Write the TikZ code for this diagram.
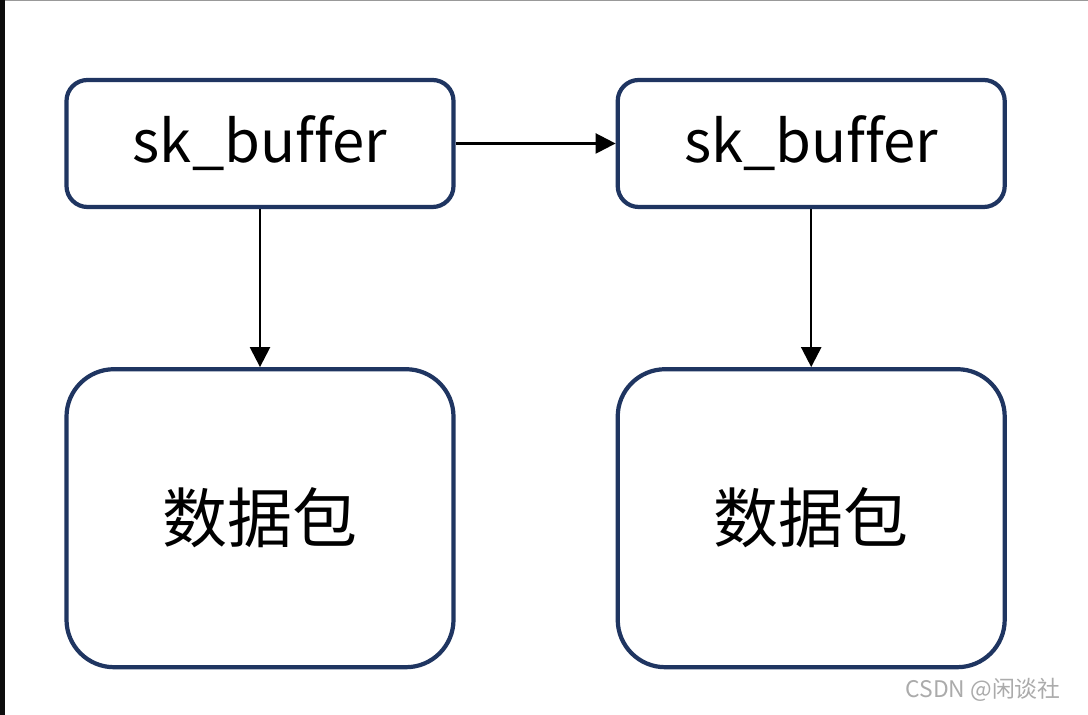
\documentclass[tikz,border=0pt]{standalone}
\usepackage{fontspec}
\setmainfont[Ligatures=CommonOff]{Noto Sans CJK SC}
\usepackage{tikz}
\usetikzlibrary{arrows.meta, positioning}
\definecolor{boxblue}{HTML}{1F3561}
\definecolor{markgray}{HTML}{ABABAB}

\begin{document}
\begin{tikzpicture}[
    bufbox/.style={draw=boxblue, line width=2.4pt, rectangle, rounded corners=0.42cm, text centered, minimum height=2.54cm, minimum width=7.74cm, font=\fontsize{33}{40}\selectfont},
    pktbox/.style={draw=boxblue, line width=2.4pt, rectangle, rounded corners=0.95cm, text centered, minimum height=5.96cm, minimum width=7.74cm, font=\fontsize{37}{42}\selectfont},
    link/.style={-{Triangle[length=0.4cm, width=0.4cm]}, line width=1.4pt}
]

    % Page frame with the dark strip on the left
    \useasboundingbox (0,0) rectangle (21.76,14.30);
    \fill[white] (0,0) rectangle (21.76,14.30);
    \fill[black!95] (0,0) rectangle (0.1,14.30);
    \fill[black!40] (0.1,14.28) rectangle (21.76,14.30);

    % Nodes for the buffers
    \node (bufA) [bufbox] at (5.20,11.43) {sk\_buffer};
    \node (bufB) [bufbox, right=3.20cm of bufA] {sk\_buffer};

    % Nodes for the packets below each buffer
    \node (pktA) [pktbox, below=3.16cm of bufA] {数据包};
    \node (pktB) [pktbox, below=3.16cm of bufB] {数据包};

    % Arrows between buffers and packets
    \draw[link] (bufA) -- (bufB);
    \draw[link] (bufA) -- (pktA);
    \draw[link] (bufB) -- (pktB);

    % Watermark
    \node (mark) [text=markgray, font=\fontsize{13}{15}\selectfont] at (19.66,0.50) {CSDN @闲谈社};

\end{tikzpicture}
\end{document}
